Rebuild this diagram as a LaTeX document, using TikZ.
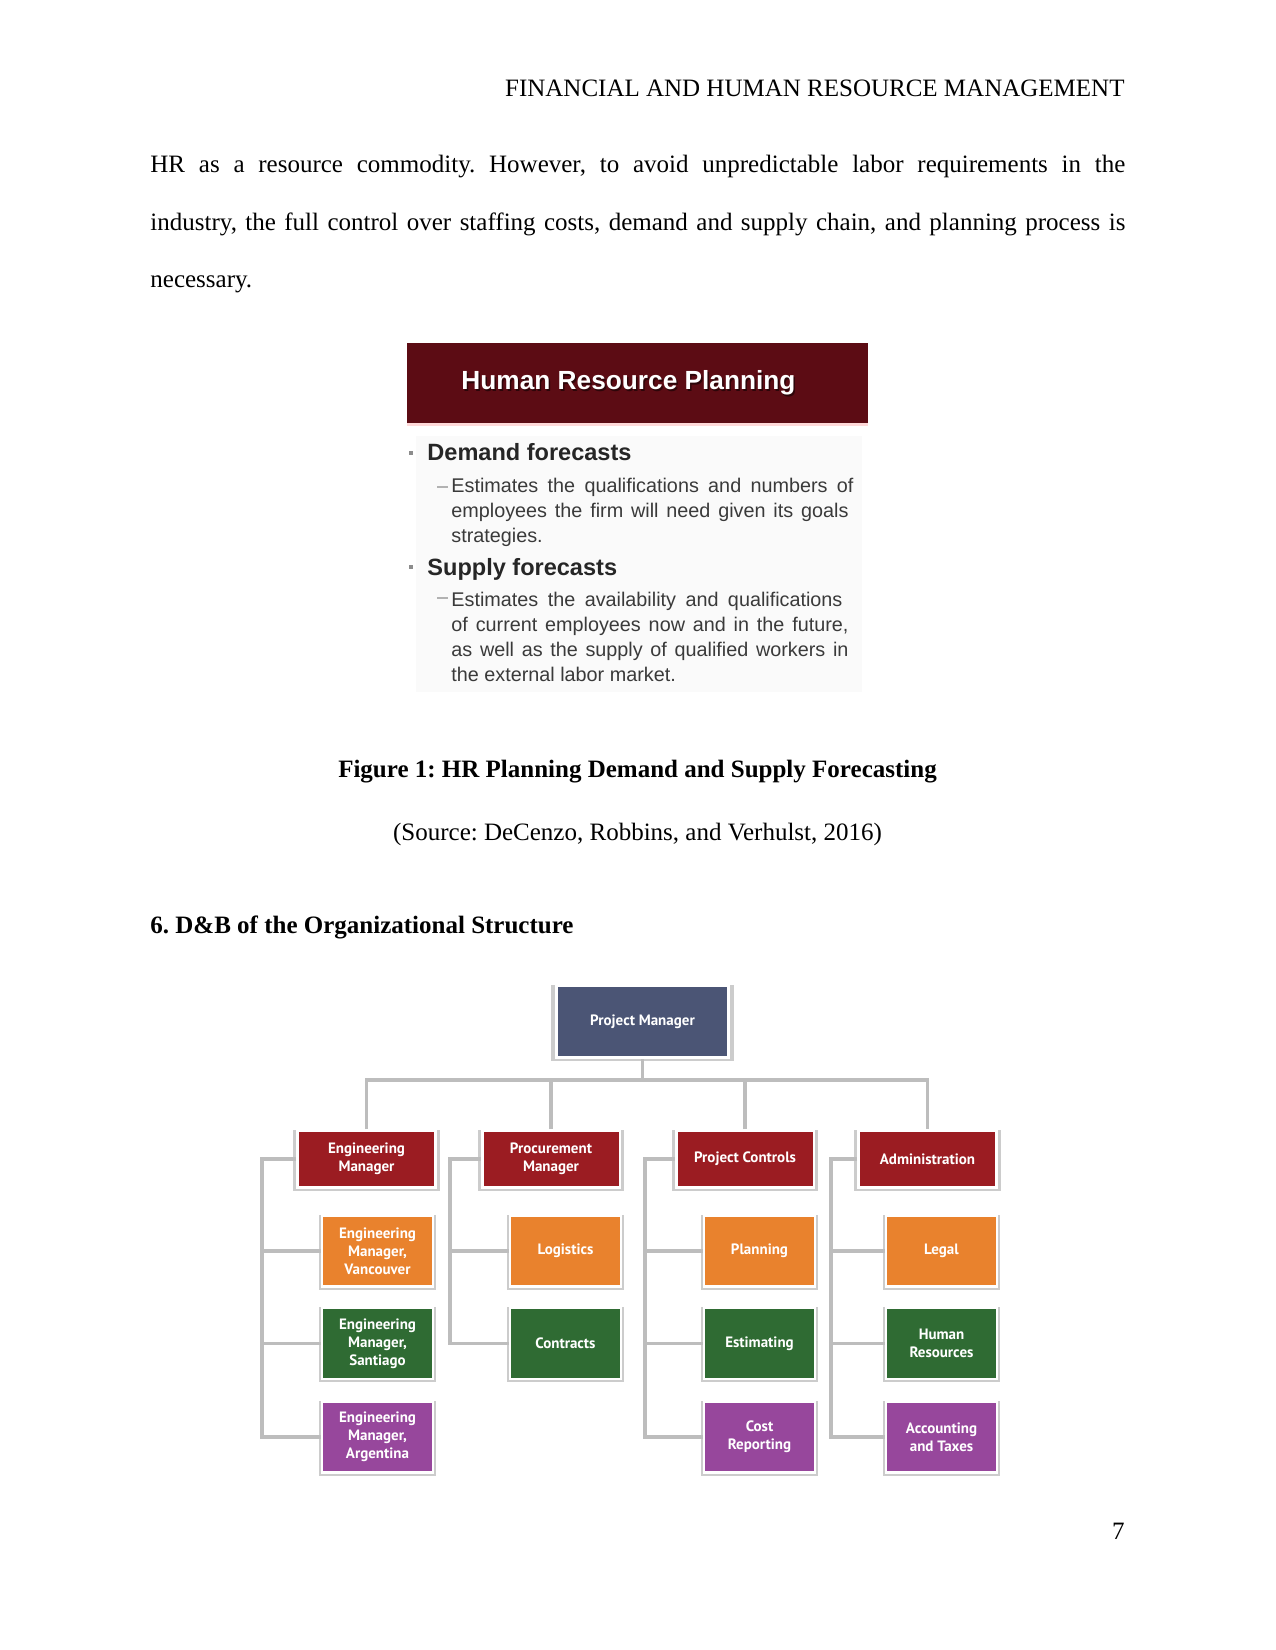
\documentclass[tikz,border=0pt]{standalone}
\usepackage{fontspec}
\setmainfont{Liberation Serif}
\newfontfamily\slidefont{Liberation Sans}
\newfontfamily\boxfont{PT Sans}
\usepackage{tikz}
\usetikzlibrary{shadows}
\frenchspacing
\definecolor{slidered}{RGB}{92,12,20}
\definecolor{slidegray}{RGB}{58,58,58}
\definecolor{pmblue}{RGB}{75,85,117}
\definecolor{headred}{RGB}{155,28,34}
\definecolor{unitorange}{RGB}{233,130,45}
\definecolor{unitgreen}{RGB}{47,107,51}
\definecolor{unitpurple}{RGB}{151,71,156}
\definecolor{linkgray}{RGB}{189,189,189}
\newcommand{\bodyline}[3]{
\node[anchor=base west, inner sep=0pt] at (150,#1) {\makebox[468pt][#2]{#3}};
}
\newcommand{\slideline}[4]{
\node[anchor=base west, inner sep=0pt, text=slidegray, font=\slidefont\fontsize{9.5}{12}\selectfont] at (451,#1) {\makebox[#2][#3]{#4}};
}

\tikzset{
  orgbox/.style={draw=white, line width=1.4pt, text=white, align=center, inner sep=0pt,
    font=\boxfont\bfseries\fontsize{7.2}{8.6}\selectfont,
    general shadow={fill=black!20, shadow scale=1.06, shadow xshift=0pt, shadow yshift=-0.6pt}},
  topbox/.style={orgbox, fill=pmblue, minimum width=82.6pt, minimum height=34.6pt},
  headbox/.style={orgbox, fill=headred, minimum width=66.2pt, minimum height=27.4pt},
  unitbox/.style={orgbox, minimum width=53.3pt, minimum height=34.1pt},
  link/.style={draw=linkgray, line width=1.9pt},
  bullethead/.style={anchor=base west, inner sep=0pt, text=black!85, font=\slidefont\bfseries\fontsize{11.3}{14}\selectfont},
}

\begin{document}
\begin{tikzpicture}[x=0.48pt, y=-0.48pt, font=\fontsize{12}{14}\selectfont]
    \fill[white] (0,0) rectangle (1275,1650);
    \useasboundingbox (0,0) rectangle (1275,1650);

    % running head and text
    \node[anchor=base east, inner sep=0pt] (runhead) at (1125,97) {FINANCIAL AND HUMAN RESOURCE MANAGEMENT};
    \bodyline{173}{s}{HR as a resource commodity. However, to avoid unpredictable labor requirements in the}
    \bodyline{231}{s}{industry, the full control over staffing costs, demand and supply chain, and planning process is}
    \bodyline{288}{l}{necessary.}

    % slide picture
    \fill[black!2] (416,436) rectangle (862,692);
    \fill[slidered] (407,343) rectangle (868,423);
    \fill[red!15] (407,423) rectangle (868,426);
    \node[anchor=base, inner sep=0pt, text=black, opacity=0.5, font=\slidefont\bfseries\fontsize{12.6}{14}\selectfont] at (630,391.5) {Human Resource Planning};
    \node[anchor=base, inner sep=0pt, text=white, font=\slidefont\bfseries\fontsize{12.6}{14}\selectfont] (slidetitle) at (628.5,390) {Human Resource Planning};

    \fill[black!45] (409,451) rectangle (413,455);
    \node[bullethead] (demand) at (427,461) {Demand forecasts};
    \draw[black!30, line width=0.8pt] (437,487) -- (448,487);
    \slideline{492}{193pt}{s}{Estimates the qualifications and numbers of}
    \slideline{517}{190.6pt}{s}{employees the firm will need given its goals}
    \slideline{542}{190pt}{l}{strategies.}

    \fill[black!45] (409,565) rectangle (413,569);
    \node[bullethead] (supply) at (427,575) {Supply forecasts};
    \draw[black!30, line width=0.8pt] (437,598) -- (448,598);
    \slideline{606}{187.7pt}{s}{Estimates the availability and qualifications}
    \slideline{631}{190.6pt}{s}{of current employees now and in the future,}
    \slideline{656}{190.6pt}{s}{as well as the supply of qualified workers in}
    \slideline{681}{190pt}{l}{the external labor market.}

    \node[anchor=base, inner sep=0pt, font=\fontsize{12}{14}\selectfont\bfseries] (caption) at (637.5,777) {Figure 1: HR Planning Demand and Supply Forecasting};
    \node[anchor=base, inner sep=0pt] (source) at (637.5,840) {(Source: DeCenzo, Robbins, and Verhulst, 2016)};
    \node[anchor=base west, inner sep=0pt, font=\fontsize{12}{14}\selectfont\bfseries] (section) at (150,933) {6. D\&B of the Organizational Structure};

    % org chart
    \node[topbox] (pm) at (642.5,1021.5) {Project Manager};

    \node[headbox] (eng) at (366.5,1159) {Engineering\\Manager};
    \node[headbox] (proc) at (551,1159) {Procurement\\Manager};
    \node[headbox] (ctrl) at (745,1159) {Project Controls};
    \node[headbox] (admin) at (927.5,1159) {Administration};

    \node[unitbox, fill=unitorange] (engva) at (377.5,1251) {Engineering\\Manager,\\Vancouver};
    \node[unitbox, fill=unitgreen] (engsa) at (377.5,1343.5) {Engineering\\Manager,\\Santiago};
    \node[unitbox, fill=unitpurple] (engar) at (377.5,1437) {Engineering\\Manager,\\Argentina};

    \node[unitbox, fill=unitorange] (logi) at (565.5,1251) {Logistics};
    \node[unitbox, fill=unitgreen] (contracts) at (565.5,1343.5) {Contracts};

    \node[unitbox, fill=unitorange] (plan) at (759.5,1251) {Planning};
    \node[unitbox, fill=unitgreen] (estim) at (759.5,1343.5) {Estimating};
    \node[unitbox, fill=unitpurple] (costrep) at (759.5,1437) {Cost\\Reporting};

    \node[unitbox, fill=unitorange] (legal) at (941.5,1251) {Legal};
    \node[unitbox, fill=unitgreen] (hr) at (941.5,1343.5) {Human\\Resources};
    \node[unitbox, fill=unitpurple] (acct) at (941.5,1437) {Accounting\\and Taxes};

    \coordinate (bar) at (0,1080);
    \draw[link] (pm.south) -- (pm.south |- bar);
    \draw[link] (eng.north) -- (eng.north |- bar) -- (admin.north |- bar) -- (admin.north);
    \foreach \n in {proc,ctrl}
        \draw[link] (\n.north) -- (\n.north |- bar);

    \foreach \head/\sx/\last in {eng/262/engar, proc/450/contracts, ctrl/645/costrep, admin/831/acct}
    {
        \coordinate (spine) at (\sx,0);
        \draw[link] (\head.west) -- (\head.west -| spine) |- (\last.west);
    }
    \foreach \unit/\sx in {engva/262, engsa/262, logi/450, plan/645, estim/645, legal/831, hr/831}
    {
        \coordinate (spine) at (\sx,0);
        \draw[link] (\unit.west) -- (\unit.west -| spine);
    }

    \node[anchor=base east, inner sep=0pt] (pageno) at (1125,1539) {7};
\end{tikzpicture}
\end{document}
